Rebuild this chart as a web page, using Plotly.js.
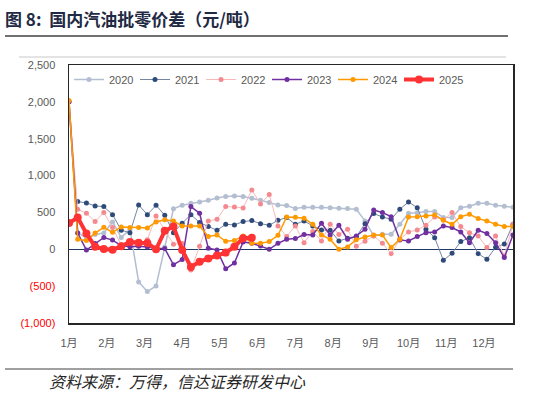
<!DOCTYPE html>
<html>
<head>
<meta charset="utf-8">
<script src="https://cdn.plot.ly/plotly-3.0.1.min.js"></script>
<style>
html,body{margin:0;padding:0;background:#fff;}
#chart{width:539px;height:394px;}
</style>
</head>
<body>
<div id="chart"></div>
<script>
// ---- data (weekly values, yuan/ton) ----
const monthLabels = ["1月","2月","3月","4月","5月","6月","7月","8月","9月","10月","11月","12月"];
const seriesNames = ["2020","2021","2022","2023","2024","2025"];

const v2020 = [2000,226,150,200,220,371,160,270,-443,-574,-497,30,550,597,624,642,665,697,715,723,715,692,665,633,602,593,552,570,570,570,565,556,552,543,385,181,204,204,339,489,497,511,511,430,430,565,583,624,624,597,583,570];
const v2021 = [null,647,629,588,579,470,258,226,602,470,597,461,226,353,470,362,308,258,339,330,376,389,348,326,394,430,339,385,317,262,258,113,149,170,348,484,439,407,543,642,565,271,158,-149,-54,104,158,-59,-136,27,72,339];
const v2022 = [2000,543,489,376,498,294,60,45,50,130,450,260,70,80,-280,40,384,407,579,575,561,805,615,742,317,175,317,90,240,113,340,200,271,40,110,181,81,-59,136,235,262,326,439,400,498,308,226,181,23,181,-90,339];
const v2023 = [2000,220,-10,80,160,125,50,36,40,30,10,10,-210,-140,579,489,15,-10,-265,-185,100,81,45,0,81,136,145,199,194,353,194,326,136,181,271,534,498,443,127,113,172,226,235,317,294,235,90,258,213,90,-113,194];
const v2024 = [2020,136,118,220,298,230,303,294,294,290,371,400,385,317,317,317,175,194,109,118,181,81,81,104,190,439,434,421,339,194,136,0,32,130,167,194,194,23,136,439,443,452,466,394,339,443,475,416,385,339,308,308];
const v2025 = [355,430,215,35,5,-5,40,100,90,85,0,250,310,-10,-240,-170,-125,-85,-45,35,150,158];

const yTickVals = [-1000,-500,0,500,1000,1500,2000,2500];
const yTickText = ['<span style="color:#ff0000">(1,000)</span>','<span style="color:#ff0000">(500)</span>','0','500','1,000','1,500','2,000','2,500'];

// ---- styles ----
const styles = [
  {line:{color:'#b3bfd1',width:1.5}, marker:{color:'#b3bfd1',size:5}},
  {line:{color:'#7486a3',width:1}, marker:{color:'#2e4a7a',size:5}},
  {line:{color:'#f9b9bb',width:1}, marker:{color:'#f48a8f',size:5}},
  {line:{color:'#7030a0',width:1.5}, marker:{color:'#7030a0',size:5}},
  {line:{color:'#ff9900',width:1.5}, marker:{color:'#ff9900',size:5}},
  {line:{color:'#ff3333',width:4}, marker:{color:'#ff3333',size:8}}
];

const allVals = [v2020,v2021,v2022,v2023,v2024,v2025];
const nWeeks = 52;
const traces = allVals.map((vals, k) => ({
  type:'scatter', mode:'lines+markers', name: seriesNames[k],
  x: vals.map((_, i) => i), y: vals,
  line: styles[k].line, marker: styles[k].marker,
  connectgaps:false, cliponaxis:true
}));

const monthTickVals = monthLabels.map((_, m) => m * nWeeks / 12);

const L = 69, R = 513, T = 65, B = 323, W = 539, H = 394;
const px = x => (x - L) / (R - L);
const py = y => (B - y) / (B - T);

const layout = {
  width: W, height: H,
  margin: {l: L, r: W - R, t: T, b: H - B, pad: 0},
  paper_bgcolor:'#fff', plot_bgcolor:'#fff',
  font: {family:'"Liberation Sans", Arial, "Noto Sans CJK SC", sans-serif', size:11, color:'#595959'},
  title: {
    text: '图 8:  国内汽油批零价差（元/吨）',
    xref:'container', yref:'container', x: 5/W, xanchor:'left', y: 1 - 20/H, yanchor:'middle',
    font: {family:'"Noto Sans CJK SC", sans-serif', size:17, color:'#1f2a44', weight:'bold'}
  },
  showlegend: true,
  legend: {
    orientation:'h', x: 0.0, xanchor:'left', y: 1, yanchor:'top',
    font:{size:11, color:'#595959'}, bgcolor:'rgba(0,0,0,0)', borderwidth:0,
    itemwidth:30, tracegroupgap:0, entrywidth:21, entrywidthmode:'pixels'
  },
  xaxis: {
    range:[0, nWeeks-1], tickvals: monthTickVals, ticktext: monthLabels,
    showgrid:false, zeroline:false, showline:true, mirror:true, linecolor:'#262626', linewidth:1.5,
    ticks:'outside', ticklen:9, tickcolor:'rgba(0,0,0,0)',
    tickfont:{size:11, color:'#595959', family:'"Liberation Sans", "Noto Sans CJK SC", sans-serif'},
    fixedrange:true
  },
  yaxis: {
    range:[-1000, 2500], tickvals: yTickVals, ticktext: yTickText,
    showgrid:false, zeroline:true, zerolinecolor:'#1f3864', zerolinewidth:1.5,
    showline:true, mirror:true, linecolor:'#262626', linewidth:1.5,
    ticks:'outside', ticklen:10, tickcolor:'rgba(0,0,0,0)',
    tickfont:{size:11, color:'#595959'},
    fixedrange:true
  },
  shapes: [
    {type:'line', xref:'paper', yref:'paper', x0:px(5), x1:px(508), y0:py(36), y1:py(36), line:{color:'#404040', width:1.5}},
    {type:'line', xref:'paper', yref:'paper', x0:px(19), x1:px(506), y0:py(57), y1:py(57), line:{color:'#c8c8c8', width:1}},
    {type:'line', xref:'paper', yref:'paper', x0:px(5), x1:px(513), y0:py(369), y1:py(369), line:{color:'#404040', width:1}}
  ],
  annotations: [
    {text:'资料来源：万得，信达证券研发中心', xref:'paper', yref:'paper', x:px(47), y:py(381), xanchor:'left', yanchor:'middle',
     showarrow:false, font:{family:'"Noto Sans CJK SC", sans-serif', size:16, color:'#262626', style:'italic'}}
  ]
};

Plotly.newPlot('chart', traces, layout, {displayModeBar:false, staticPlot:true});
</script>
</body>
</html>
